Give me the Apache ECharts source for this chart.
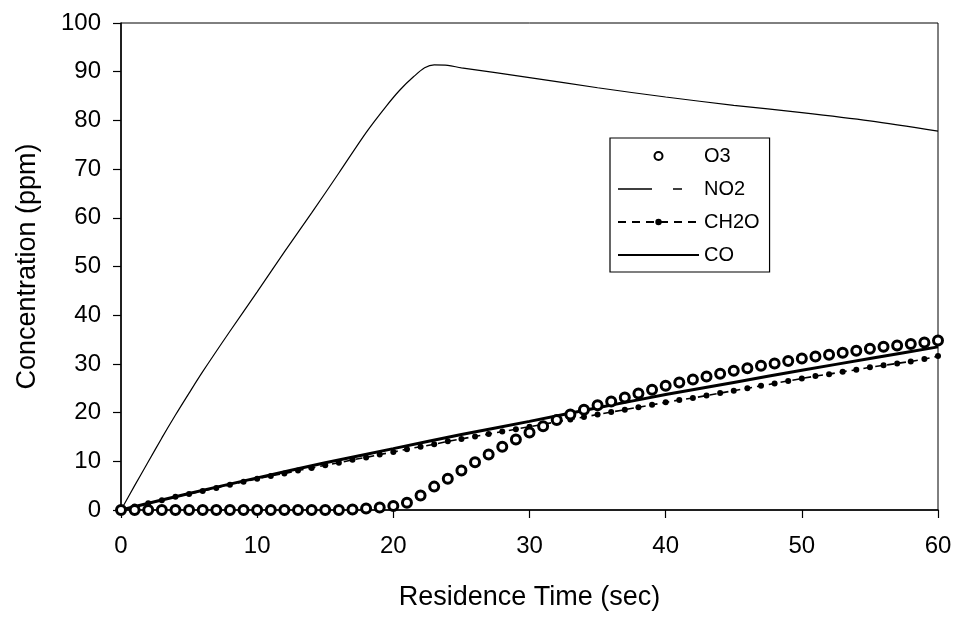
<!DOCTYPE html>
<html>
<head>
<meta charset="utf-8">
<script src="https://cdn.jsdelivr.net/npm/echarts@6/dist/echarts.min.js"></script>
<style>
  html, body { margin: 0; padding: 0; background: #fff; }
  #main { width: 958px; height: 619px; }
</style>
</head>
<body>
<div id="main"></div>
<script>
// residence time (sec), one sample per second for the marker series
var seconds = [0, 1, 2, 3, 4, 5, 6, 7, 8, 9, 10, 11, 12, 13, 14, 15, 16, 17, 18, 19, 20,
  21, 22, 23, 24, 25, 26, 27, 28, 29, 30, 31, 32, 33, 34, 35, 36, 37, 38, 39, 40,
  41, 42, 43, 44, 45, 46, 47, 48, 49, 50, 51, 52, 53, 54, 55, 56, 57, 58, 59, 60];

var o3 = [0, 0, 0, 0, 0, 0, 0, 0, 0, 0, 0, 0, 0, 0, 0, 0, 0, 0.1, 0.3, 0.5, 0.8,
  1.5, 3, 4.8, 6.4, 8.1, 9.8, 11.4, 13, 14.5, 15.9, 17.2, 18.5, 19.6, 20.6, 21.5, 22.3, 23.1, 23.9, 24.7, 25.5,
  26.2, 26.8, 27.4, 28, 28.6, 29.1, 29.6, 30.1, 30.6, 31.1, 31.5, 31.9, 32.3, 32.7, 33.1, 33.5, 33.8, 34.1, 34.4, 34.8];

var ch2o = [0, 0.7, 1.4, 2.0, 2.7, 3.3, 3.9, 4.5, 5.2, 5.8, 6.4,
  7.0, 7.5, 8.1, 8.6, 9.2, 9.7, 10.3, 10.8, 11.4, 11.9,
  12.5, 13.0, 13.5, 14.1, 14.6, 15.1, 15.6, 16.1, 16.6, 17.1,
  17.6, 18.1, 18.6, 19.1, 19.6, 20.1, 20.6, 21.1, 21.6, 22.1,
  22.6, 23.0, 23.5, 24.0, 24.5, 25.0, 25.5, 26.0, 26.5, 27.0,
  27.5, 27.9, 28.4, 28.8, 29.3, 29.7, 30.1, 30.5, 31.0, 31.6];

var coTime = [0, 5, 10, 15, 20, 25, 30, 35, 40, 45, 50, 55, 60];
var co = [0, 3.4, 6.6, 9.7, 12.6, 15.5, 18.2, 21.0, 23.7, 26.2, 28.7, 31.1, 33.5];

var no2Time = [0, 1, 2, 3, 4, 5, 6, 8, 10, 12, 14, 16, 18, 19.5, 20.5, 21.5, 22.3, 23, 24, 25,
  30, 35, 40, 45, 50, 55, 60];
var no2 = [0, 5, 9.9, 14.8, 19.5, 24, 28.4, 36.7, 44.8, 53, 61, 69.2, 77.5, 83, 86.3, 89, 90.8, 91.4, 91.3, 90.8,
  88.8, 86.7, 84.8, 83.1, 81.6, 79.9, 77.8];

function pairs(xs, ys) {
  return xs.map(function (x, i) { return [x, ys[i]]; });
}

var chart = echarts.init(document.getElementById('main'));
var font = 'Liberation Sans, Arial, sans-serif';

chart.setOption({
  animation: false,
  backgroundColor: '#fff',
  grid: {
    left: 121, right: 20, top: 23, bottom: 109,
    show: true, borderColor: '#000', borderWidth: 1
  },
  legend: {
    orient: 'vertical',
    left: 610, top: 138,
    backgroundColor: '#fff',
    borderColor: '#000', borderWidth: 1.2, borderRadius: 0,
    padding: [8, 10, 7, 7],
    itemWidth: 81, itemHeight: 8, itemGap: 13,
    textStyle: { fontFamily: font, fontSize: 20, lineHeight: 20, color: '#000' },
    data: [
      { name: 'O3' },
      { name: 'NO2', itemStyle: { opacity: 0 }, lineStyle: { type: [34, 21, 9, 40], width: 1.5, color: '#000' } },
      { name: 'CH2O', lineStyle: { type: [8, 6] } },
      { name: 'CO', itemStyle: { opacity: 0 } }
    ]
  },
  xAxis: {
    type: 'value', min: 0, max: 60, interval: 10,
    name: 'Residence Time (sec)', nameLocation: 'middle', nameGap: 74,
    nameTextStyle: { fontFamily: font, fontSize: 27, color: '#000' },
    axisLine: { lineStyle: { color: '#000', width: 1.5 } },
    axisTick: { inside: false, length: 8, lineStyle: { color: '#000', width: 1.2 } },
    axisLabel: { fontFamily: font, fontSize: 24, color: '#000', margin: 24 },
    splitLine: { show: false }
  },
  yAxis: {
    type: 'value', min: 0, max: 100, interval: 10,
    name: 'Concentration (ppm)', nameLocation: 'middle', nameGap: 80, nameRotate: 90,
    nameTextStyle: { fontFamily: font, fontSize: 27, color: '#000' },
    axisLine: { lineStyle: { color: '#000', width: 1.5 } },
    axisTick: { inside: false, length: 8, lineStyle: { color: '#000', width: 1.2 } },
    axisLabel: { fontFamily: font, fontSize: 24, color: '#000', margin: 20 },
    splitLine: { show: false }
  },
  series: [
    {
      name: 'O3', type: 'scatter',
      symbol: 'circle', symbolSize: 9,
      itemStyle: { color: '#fff', borderColor: '#000', borderWidth: 3, opacity: 1 },
      data: pairs(seconds, o3), z: 5
    },
    {
      name: 'NO2', type: 'line',
      symbol: 'none', smooth: 0.3,
      itemStyle: { color: '#000' },
      lineStyle: { color: '#000', width: 1.2 },
      data: pairs(no2Time, no2)
    },
    {
      name: 'CH2O', type: 'line',
      symbol: 'circle', symbolSize: 6, showAllSymbol: true,
      itemStyle: { color: '#000' },
      lineStyle: { color: '#000', width: 1.6, type: [7, 5] },
      data: pairs(seconds, ch2o)
    },
    {
      name: 'CO', type: 'line',
      symbol: 'none', smooth: 0.2,
      itemStyle: { color: '#000' },
      lineStyle: { color: '#000', width: 3 },
      data: pairs(coTime, co)
    }
  ]
});
</script>
</body>
</html>
